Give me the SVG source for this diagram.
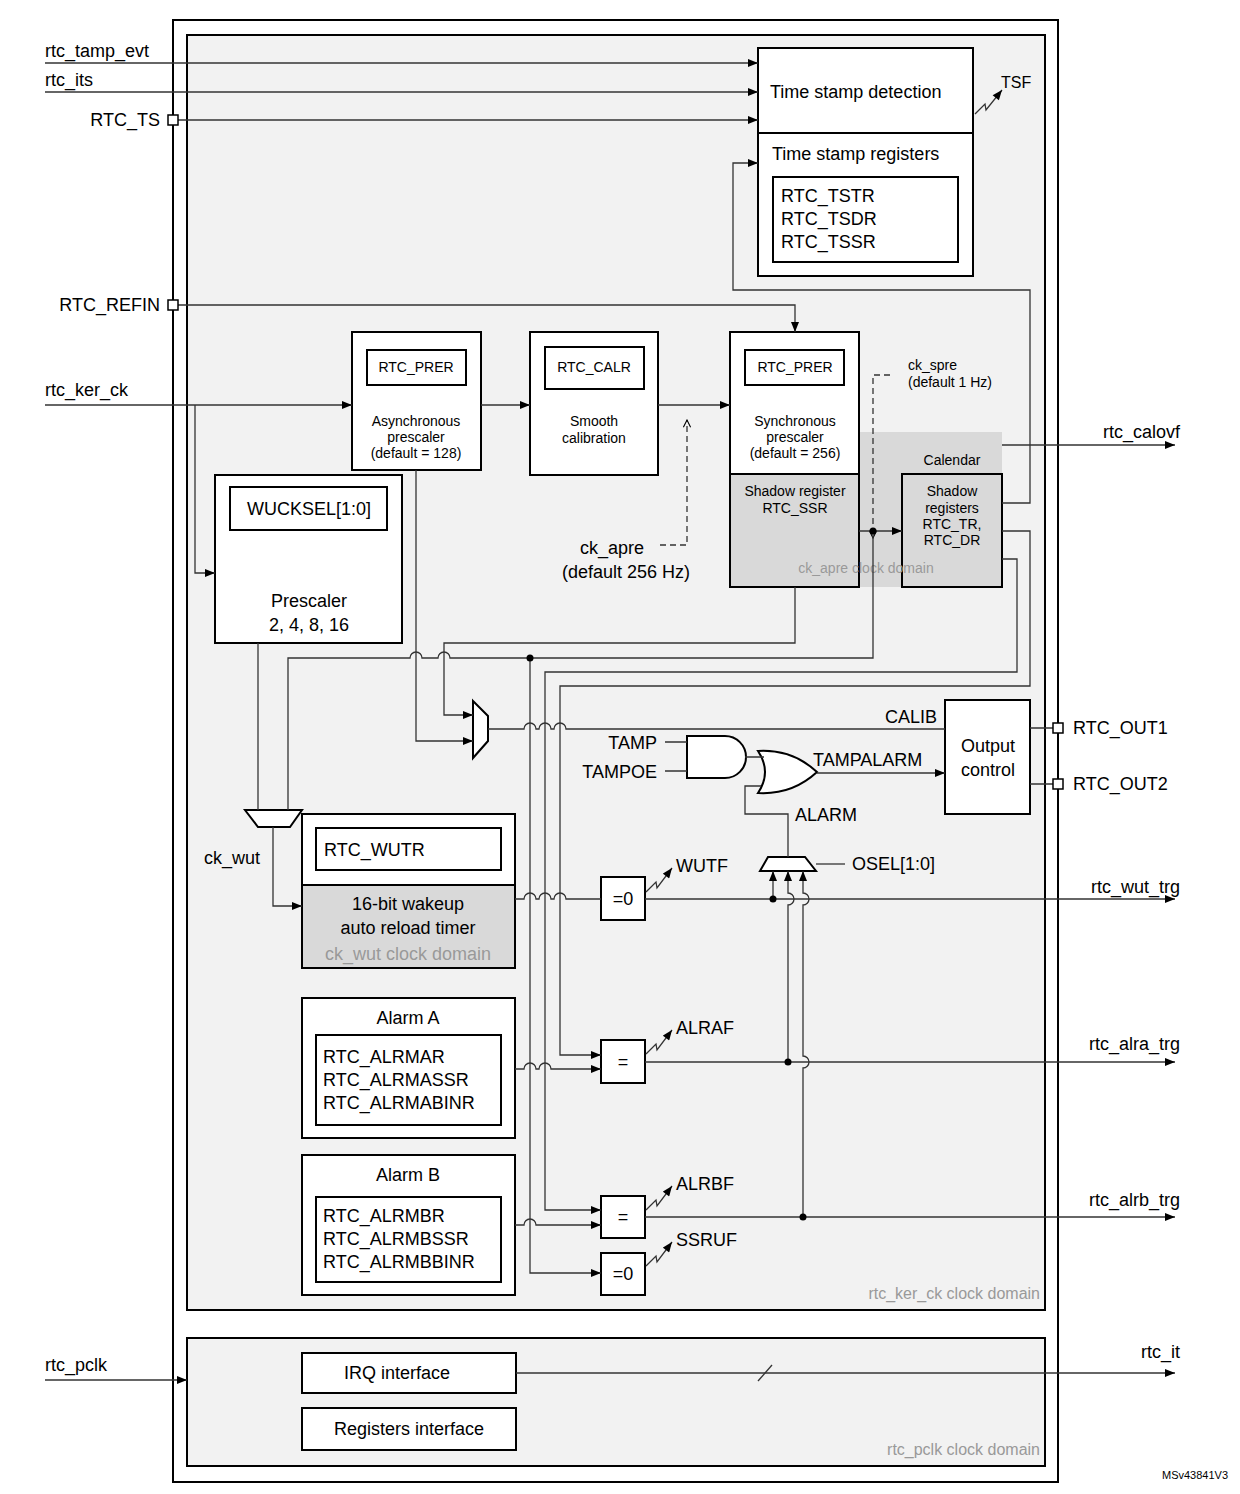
<svg xmlns="http://www.w3.org/2000/svg" width="1240" height="1494" viewBox="0 0 1240 1494">
<style>
text{font-family:"Liberation Sans",Arial,sans-serif;fill:#000}
.l{font-size:18px}.s{font-size:14px}.m{font-size:16px}
.c{text-anchor:middle}.r{text-anchor:end}.g{fill:#999}
.b{fill:#fff;stroke:#000;stroke-width:2}
.w{fill:none;stroke:#333;stroke-width:1.3}
.a{marker-end:url(#ar)}
.d{fill:none;stroke:#333;stroke-width:1.3;stroke-dasharray:6 4;marker-end:url(#oa)}
</style>
<defs>
<marker id="ar" viewBox="0 0 10 8" refX="10" refY="4" markerWidth="11" markerHeight="8" markerUnits="userSpaceOnUse" orient="auto"><path d="M0,0L10,4L0,8Z" fill="#000"/></marker>
<marker id="oa" viewBox="0 0 10 10" refX="9" refY="5" markerWidth="9" markerHeight="9" markerUnits="userSpaceOnUse" orient="auto"><path d="M1,1L9,5L1,9" fill="none" stroke="#000" stroke-width="1.2"/></marker>
</defs>
<rect width="1240" height="1494" fill="#fff"/>
<g id="frame">
<rect x="173" y="20" width="885" height="1462" fill="#fff" stroke="#000" stroke-width="2"/>
<rect x="187" y="35" width="858" height="1275" fill="#f2f2f2" stroke="#000" stroke-width="2"/>
<rect x="187" y="1338" width="858" height="128" fill="#f2f2f2" stroke="#000" stroke-width="2"/>
<text class="m r g" x="1040" y="1299">rtc_ker_ck clock domain</text>
<text class="m r g" x="1040" y="1455">rtc_pclk clock domain</text>
<text x="1195" y="1479" class="c" font-size="11">MSv43841V3</text>
</g>
<g id="ts">
<rect class="b" x="758" y="48" width="215" height="85"/>
<rect class="b" x="758" y="133" width="215" height="143"/>
<rect class="b" x="773" y="177" width="185" height="85"/>
<text class="l" x="770" y="98">Time stamp detection</text>
<text class="l" x="772" y="160">Time stamp registers</text>
<text class="l" x="781" y="202">RTC_TSTR</text>
<text class="l" x="781" y="225">RTC_TSDR</text>
<text class="l" x="781" y="248">RTC_TSSR</text>
<text class="m" x="1001" y="88">TSF</text>
</g>
<g id="async">
<rect class="b" x="352" y="332" width="129" height="138"/>
<rect class="b" x="367" y="350" width="99" height="35"/>
<text class="s c" x="416" y="372">RTC_PRER</text>
<text class="s c" x="416" y="426">Asynchronous</text>
<text class="s c" x="416" y="442">prescaler</text>
<text class="s c" x="416" y="458">(default = 128)</text>
</g>
<g id="calr">
<rect class="b" x="530" y="332" width="128" height="143"/>
<rect class="b" x="545" y="347" width="99" height="42"/>
<text class="s c" x="594" y="372">RTC_CALR</text>
<text class="s c" x="594" y="426">Smooth</text>
<text class="s c" x="594" y="443">calibration</text>
</g>
<g id="sync">
<rect x="730" y="474" width="272" height="113" fill="#d9d9d9"/>
<rect x="859" y="432" width="143" height="42" fill="#d9d9d9"/>
<rect x="730" y="332" width="129" height="142" fill="#fff" stroke="#000" stroke-width="2"/>
<rect x="730" y="474" width="129" height="113" fill="none" stroke="#000" stroke-width="2"/>
<rect class="b" x="745" y="350" width="99" height="35"/>
<text class="s c" x="795" y="372">RTC_PRER</text>
<text class="s c" x="795" y="426">Synchronous</text>
<text class="s c" x="795" y="442">prescaler</text>
<text class="s c" x="795" y="458">(default = 256)</text>
<text class="s c" x="795" y="496">Shadow register</text>
<text class="s c" x="795" y="513">RTC_SSR</text>
<rect x="902" y="474" width="100" height="113" fill="none" stroke="#000" stroke-width="2"/>
<text class="s c" x="952" y="465">Calendar</text>
<text class="s c" x="952" y="496">Shadow</text>
<text class="s c" x="952" y="513">registers</text>
<text class="s c" x="952" y="529">RTC_TR,</text>
<text class="s c" x="952" y="545">RTC_DR</text>
<text class="s c g" x="866" y="573">ck_apre clock domain</text>
<text class="s" x="908" y="370">ck_spre</text>
<text class="s" x="908" y="387">(default 1 Hz)</text>
<text class="l c" x="612" y="554">ck_apre</text>
<text class="l c" x="626" y="578">(default 256 Hz)</text>
</g>
<g id="presc">
<rect class="b" x="215" y="475" width="187" height="168"/>
<rect class="b" x="230" y="487" width="157" height="43"/>
<text class="l c" x="309" y="515">WUCKSEL[1:0]</text>
<text class="l c" x="309" y="607">Prescaler</text>
<text class="l c" x="309" y="631">2, 4, 8, 16</text>
</g>
<g id="muxes">
<path class="b" d="M245,810H302L290,827H258Z" stroke-width="1.6"/>
<path class="b" d="M473,701L488,716V741L473,758Z" stroke-width="1.6"/>
<path class="b" d="M768,857H805L816,871H760Z" stroke-width="1.6"/>
<path class="b" d="M687,736H725A21,21 0 0 1 725,778H687Z" stroke-width="1.6"/>
<path class="b" d="M758,751Q792,749 817,772Q792,795 758,793Q772,772 758,751Z" stroke-width="1.6"/>
</g>
<g id="wut">
<rect class="b" x="302" y="814" width="213" height="154"/>
<rect x="302" y="885" width="213" height="83" fill="#d9d9d9" stroke="#000" stroke-width="2"/>
<rect class="b" x="316" y="828" width="185" height="42"/>
<text class="l" x="324" y="856">RTC_WUTR</text>
<text class="l c" x="408" y="910">16-bit wakeup</text>
<text class="l c" x="408" y="934">auto reload timer</text>
<text class="l c g" x="408" y="960">ck_wut clock domain</text>
<text class="l" x="204" y="864">ck_wut</text>
</g>
<g id="alarmA">
<rect class="b" x="302" y="998" width="213" height="140"/>
<rect class="b" x="316" y="1035" width="185" height="90"/>
<text class="l c" x="408" y="1024">Alarm A</text>
<text class="l" x="323" y="1063">RTC_ALRMAR</text>
<text class="l" x="323" y="1086">RTC_ALRMASSR</text>
<text class="l" x="323" y="1109">RTC_ALRMABINR</text>
</g>
<g id="alarmB">
<rect class="b" x="302" y="1155" width="213" height="140"/>
<rect class="b" x="316" y="1197" width="185" height="85"/>
<text class="l c" x="408" y="1181">Alarm B</text>
<text class="l" x="323" y="1222">RTC_ALRMBR</text>
<text class="l" x="323" y="1245">RTC_ALRMBSSR</text>
<text class="l" x="323" y="1268">RTC_ALRMBBINR</text>
</g>
<g id="cmp">
<rect class="b" x="601" y="877" width="44" height="43"/>
<text class="l c" x="623" y="905">=0</text>
<rect class="b" x="601" y="1040" width="44" height="43"/>
<text class="l c" x="623" y="1068">=</text>
<rect class="b" x="601" y="1196" width="44" height="42"/>
<text class="l c" x="623" y="1223">=</text>
<rect class="b" x="601" y="1253" width="44" height="42"/>
<text class="l c" x="623" y="1280">=0</text>
<text class="l" x="676" y="872">WUTF</text>
<text class="l" x="676" y="1034">ALRAF</text>
<text class="l" x="676" y="1190">ALRBF</text>
<text class="l" x="676" y="1246">SSRUF</text>
</g>
<g id="outctl">
<rect class="b" x="945" y="700" width="85" height="114"/>
<text class="l c" x="988" y="752">Output</text>
<text class="l c" x="988" y="776">control</text>
<text class="l r" x="937" y="723">CALIB</text>
<text class="l r" x="657" y="749">TAMP</text>
<text class="l r" x="657" y="778">TAMPOE</text>
<text class="l" x="813" y="766">TAMPALARM</text>
<text class="l" x="795" y="821">ALARM</text>
<text class="l" x="852" y="870">OSEL[1:0]</text>
</g>
<g id="pclk">
<rect class="b" x="302" y="1353" width="214" height="40"/>
<text class="l c" x="397" y="1379">IRQ interface</text>
<rect class="b" x="302" y="1408" width="214" height="42"/>
<text class="l c" x="409" y="1435">Registers interface</text>
</g>
<g id="labels">
<text class="l" x="45" y="57">rtc_tamp_evt</text>
<text class="l" x="45" y="86">rtc_its</text>
<text class="l r" x="160" y="126">RTC_TS</text>
<text class="l r" x="160" y="311">RTC_REFIN</text>
<text class="l" x="45" y="396">rtc_ker_ck</text>
<text class="l" x="45" y="1371">rtc_pclk</text>
<text class="l r" x="1180" y="438">rtc_calovf</text>
<text class="l" x="1073" y="734">RTC_OUT1</text>
<text class="l" x="1073" y="790">RTC_OUT2</text>
<text class="l r" x="1180" y="893">rtc_wut_trg</text>
<text class="l r" x="1180" y="1050">rtc_alra_trg</text>
<text class="l r" x="1180" y="1206">rtc_alrb_trg</text>
<text class="l r" x="1180" y="1358">rtc_it</text>
</g>
<g id="connectors">
<path class="w a" d="M45,63H758"/>
<path class="w a" d="M45,92H758"/>
<path class="w a" d="M178,120H758"/>
<path class="w a" d="M1002,503H1030V290H733V163H758"/>
<path class="w a" d="M178,305H795V332"/>
<path class="w a" d="M45,405H352"/>
<path class="w a" d="M195,405V573H215"/>
<path class="w a" d="M481,405H530"/>
<path class="w a" d="M658,405H730"/>
<path class="d" d="M660,545H687V420"/>
<path class="d" d="M890,375H873V538"/>
<path class="w a" d="M859,531H902"/>
<path class="w a" d="M1002,445H1175"/>
<path class="w a" d="M1002,559H1017V672H545V1210H601"/>
<path class="w a" d="M1002,531H1030V686H560V1055H601"/>
<path class="w a" d="M795,587V643H444V715H473"/>
<path class="w" d="M873,531V658H450A6,6 0 0 0 438,658H422A6,6 0 0 0 410,658H288V810"/>
<path class="w a" d="M530,658V1273H601"/>
<path class="w" d="M258,643V810"/>
<path class="w a" d="M273,827V906H302"/>
<path class="w a" d="M416,470V741H473"/>
<path class="w" d="M488,729H524A6,6 0 0 1 536,729H539A6,6 0 0 1 551,729H554A6,6 0 0 1 566,729H945"/>
<path class="w" d="M515,899H524A6,6 0 0 1 536,899H539A6,6 0 0 1 551,899H554A6,6 0 0 1 566,899H601"/>
<path class="w a" d="M515,1069H524A6,6 0 0 1 536,1069H539A6,6 0 0 1 551,1069H601"/>
<path class="w a" d="M515,1225H524A6,6 0 0 1 536,1225H601"/>
<path class="w a" d="M645,899H1175"/>
<path class="w a" d="M645,1062H1175"/>
<path class="w a" d="M645,1217H1175"/>
<path class="w a" d="M773,899V871"/>
<path class="w a" d="M788,1062V905A6,6 0 0 0 788,893V871"/>
<path class="w a" d="M803,1217V1068A6,6 0 0 0 803,1056V905A6,6 0 0 0 803,893V871"/>
<path class="w" d="M665,742H687M665,771H687M745,757H764"/>
<path class="w a" d="M817,773H945"/>
<path class="w" d="M761,786H745V814H788V857"/>
<path class="w" d="M816,864H845"/>
<path class="w" d="M1030,728H1053M1030,784H1053"/>
<path class="w a" d="M45,1380H187"/>
<path class="w a" d="M516,1373H1175"/>
<path class="w" d="M758,1381L772,1365"/>
<path class="w a" d="M975,114L985,104L986,110L1002,90"/>
<path class="w a" d="M646,892L656,882L657,888L672,868"/>
<path class="w a" d="M646,1054L656,1044L657,1050L672,1030"/>
<path class="w a" d="M646,1210L656,1200L657,1206L672,1186"/>
<path class="w a" d="M646,1266L656,1256L657,1262L672,1242"/>
<g fill="#000"><circle cx="873" cy="531" r="3.5"/><circle cx="530" cy="658" r="3.5"/><circle cx="773" cy="899" r="3.5"/><circle cx="788" cy="1062" r="3.5"/><circle cx="803" cy="1217" r="3.5"/></g>
</g>
<g id="pins" fill="#fff" stroke="#000" stroke-width="1.5">
<rect x="168" y="115" width="10" height="10"/>
<rect x="168" y="300" width="10" height="10"/>
<rect x="1053" y="723" width="10" height="10"/>
<rect x="1053" y="779" width="10" height="10"/>
</g>
</svg>
